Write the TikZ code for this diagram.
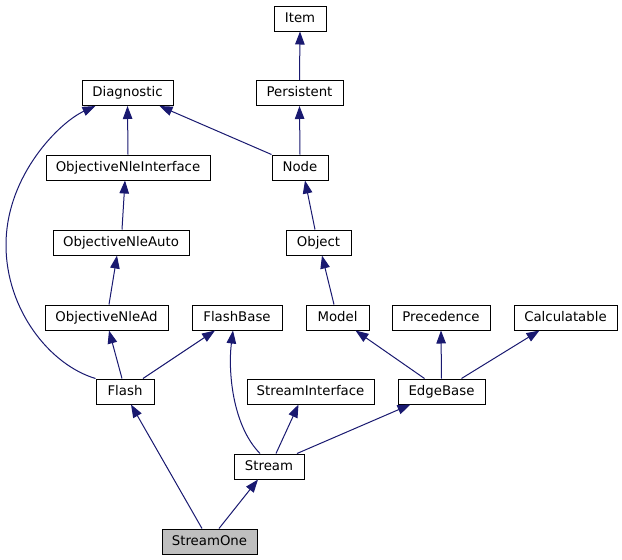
\documentclass[tikz,border=0pt]{standalone}
\usepackage{fontspec}
\setmainfont{DejaVu Sans}
\usetikzlibrary{arrows.meta}
\definecolor{edgeblue}{RGB}{25,25,112}
\definecolor{hlgrey}{RGB}{191,191,191}
\begin{document}
\begin{tikzpicture}[x=1pt,y=-1pt,
  cls/.style={draw=black, line width=1pt, fill=white, inner sep=0pt, minimum height=25pt, text height=9.8pt, text depth=2.8pt, anchor=center, font=\fontsize{13.3}{15}\selectfont},
  edge/.style={draw=edgeblue, line width=1pt, -{Triangle[length=13pt,width=9.5pt]}}]
\useasboundingbox (0,0) rectangle (622,560);
\node[cls, minimum width=52pt] (Item) at (300,18.5) {Item};
\node[cls, minimum width=87pt] (Persistent) at (299.5,93) {Persistent};
\node[cls, minimum width=91pt] (Diagnostic) at (127.5,93) {Diagnostic};
\node[cls, minimum width=164pt] (ONI) at (128,167.5) {ObjectiveNleInterface};
\node[cls, minimum width=56pt] (Node) at (300,167.5) {Node};
\node[cls, minimum width=136pt] (ONAuto) at (121,242.5) {ObjectiveNleAuto};
\node[cls, minimum width=65pt] (Object) at (318.5,242.5) {Object};
\node[cls, minimum width=123pt] (ONAd) at (106.5,317.5) {ObjectiveNleAd};
\node[cls, minimum width=90pt] (FlashBase) at (237,317.5) {FlashBase};
\node[cls, minimum width=63pt] (Model) at (337.5,317.5) {Model};
\node[cls, minimum width=98pt] (Precedence) at (441,317.5) {Precedence};
\node[cls, minimum width=103pt] (Calc) at (565.5,317.5) {Calculatable};
\node[cls, minimum width=58pt] (Flash) at (125,391.5) {Flash};
\node[cls, minimum width=127pt] (SI) at (310.5,391.5) {StreamInterface};
\node[cls, minimum width=87pt] (EdgeBase) at (441.5,391.5) {EdgeBase};
\node[cls, minimum width=70pt] (Stream) at (269,466.5) {Stream};
\node[cls, minimum width=95pt, fill=hlgrey] (StreamOne) at (209.5,541.5) {StreamOne};

\draw[edge] (Persistent.north) -- (Item.south);
\draw[edge] (Node.north) -- (Persistent.south);
\draw[edge] (ONI.north) -- (Diagnostic.south);
\draw[edge] (Node.north west) -- ([xshift=32pt]Diagnostic.south);
\draw[edge] (Flash.north west) .. controls (50,365) and (6,310) .. (6,245) .. controls (6,175) and (60,122) .. ([xshift=-32pt]Diagnostic.south);
\draw[edge] ([xshift=1pt]ONAuto.north) -- ([xshift=-3pt]ONI.south);
\draw[edge] ([xshift=2.5pt]ONAd.north) -- ([xshift=-4pt]ONAuto.south);
\draw[edge] ([xshift=-3.5pt]Object.north) -- ([xshift=5pt]Node.south);
\draw[edge] ([xshift=-3.5pt]Model.north) -- ([xshift=3.5pt]Object.south);
\draw[edge] ([xshift=-3pt]Flash.north) -- ([xshift=2.5pt]ONAd.south);
\draw[edge] ([xshift=18pt]Flash.north) -- ([xshift=-22pt]FlashBase.south);
\draw[edge] ([xshift=-9pt]Stream.north) .. controls (232,425) and (228,370) .. ([xshift=-4pt]FlashBase.south);
\draw[edge] ([xshift=7pt]Stream.north) -- ([xshift=-12pt]SI.south);
\draw[edge] ([xshift=28pt]Stream.north) -- ([xshift=-31pt]EdgeBase.south);
\draw[edge] ([xshift=-17pt]EdgeBase.north) -- ([xshift=18pt]Model.south);
\draw[edge] (EdgeBase.north) -- (Precedence.south);
\draw[edge] ([xshift=20pt]EdgeBase.north) -- ([xshift=-26pt]Calc.south);
\draw[edge] ([xshift=-7.5pt]StreamOne.north) -- ([xshift=6pt]Flash.south);
\draw[edge] ([xshift=9.5pt]StreamOne.north) -- ([xshift=-11pt]Stream.south);
\end{tikzpicture}
\end{document}
